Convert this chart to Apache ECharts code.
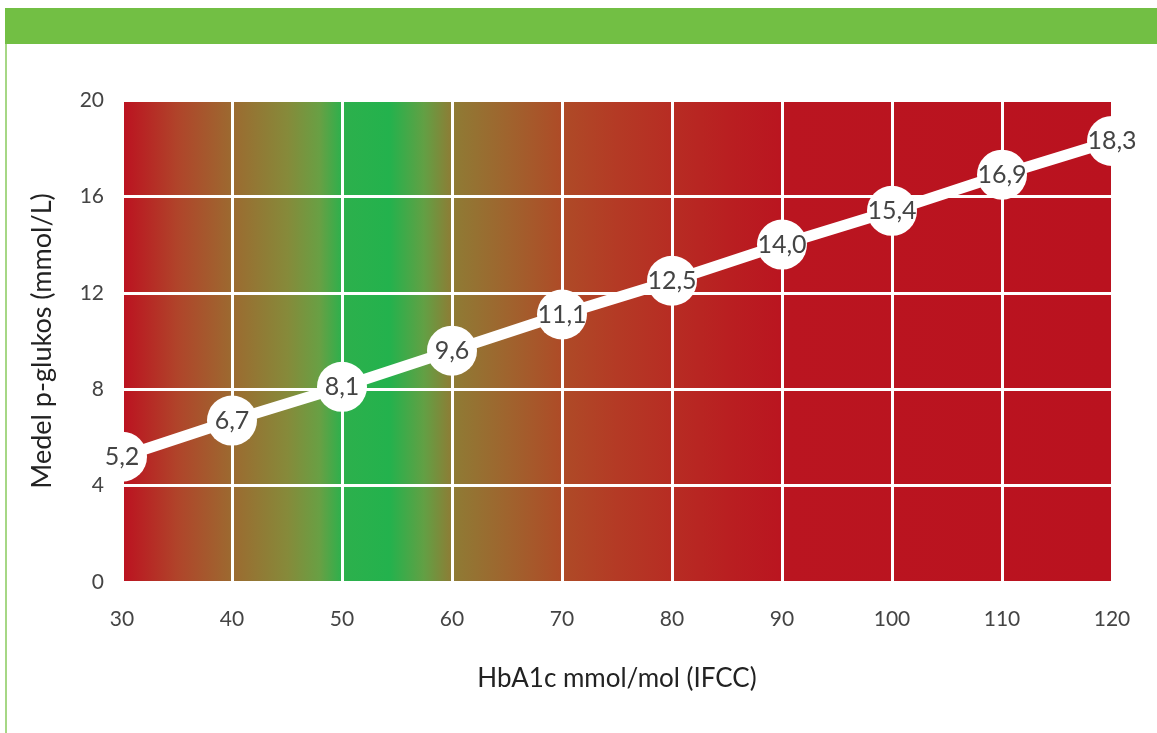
<!DOCTYPE html>
<html>
<head>
<meta charset="utf-8">
<script src="https://cdn.jsdelivr.net/npm/echarts@6/dist/echarts.min.js"></script>
<style>
  html, body { margin: 0; padding: 0; background: #fff; }
  #chart { width: 1157px; height: 733px; }
</style>
</head>
<body>
<div id="chart"></div>
<script>
// Data
const hba1c = [30, 40, 50, 60, 70, 80, 90, 100, 110, 120];
const glucose = [5.2, 6.7, 8.1, 9.6, 11.1, 12.5, 14.0, 15.4, 16.9, 18.3];
const xTicks = [30, 40, 50, 60, 70, 80, 90, 100, 110, 120];
const yTicks = [0, 4, 8, 12, 16, 20];

const chart = echarts.init(document.getElementById('chart'));
const FONT = 'Lato, "Open Sans", sans-serif';

const bgGradient = new echarts.graphic.LinearGradient(0, 0, 1, 0, [
  { offset: 0.000, color: '#BC1120' },
  { offset: 0.056, color: '#B0442A' },
  { offset: 0.111, color: '#9C6A30' },
  { offset: 0.167, color: '#868A3A' },
  { offset: 0.200, color: '#68A044' },
  { offset: 0.222, color: '#2DB04C' },
  { offset: 0.270, color: '#23B24D' },
  { offset: 0.305, color: '#62A044' },
  { offset: 0.333, color: '#8E7C35' },
  { offset: 0.389, color: '#9F642E' },
  { offset: 0.444, color: '#AE4B27' },
  { offset: 0.500, color: '#B43A25' },
  { offset: 0.556, color: '#B72C23' },
  { offset: 0.611, color: '#B91F21' },
  { offset: 0.667, color: '#BA1520' },
  { offset: 1.000, color: '#BA121F' }
]);

const pairs = hba1c.map((x, i) => [x, glucose[i]]);

chart.setOption({
  animation: false,
  backgroundColor: '#fff',
  graphic: [
    { type: 'rect', left: 5, top: 8, shape: { width: 1152, height: 36 }, style: { fill: '#72BF44' }, z: 10 },
    { type: 'rect', left: 5, top: 44, shape: { width: 2, height: 689 }, style: { fill: '#A6D785' }, z: 10 }
  ],
  grid: { left: 122, right: 45, top: 100, bottom: 151 },
  xAxis: {
    type: 'value',
    min: xTicks[0],
    max: xTicks[xTicks.length - 1],
    interval: 10,
    z: 3,
    name: 'HbA1c mmol/mol (IFCC)',
    nameLocation: 'middle',
    nameGap: 84,
    nameMoveOverlap: false,
    nameTextStyle: { fontFamily: FONT, fontSize: 26, color: '#222' },
    axisLine: { show: false },
    axisTick: { show: false },
    axisLabel: { fontFamily: FONT, fontSize: 21, color: '#444', margin: 27 },
    splitLine: { show: true, lineStyle: { color: '#fff', width: 3 } }
  },
  yAxis: {
    type: 'value',
    min: yTicks[0],
    max: yTicks[yTicks.length - 1],
    interval: 4,
    z: 3,
    name: 'Medel p-glukos (mmol/L)',
    nameLocation: 'middle',
    nameGap: 66,
    nameMoveOverlap: false,
    nameTextStyle: { fontFamily: FONT, fontSize: 27, color: '#222' },
    axisLine: { show: false },
    axisTick: { show: false },
    axisLabel: { fontFamily: FONT, fontSize: 21, color: '#444', margin: 18 },
    splitLine: { show: true, lineStyle: { color: '#fff', width: 3 } }
  },
  series: [
    {
      type: 'line',
      z: 1,
      data: [],
      silent: true,
      markArea: {
        silent: true,
        itemStyle: { color: bgGradient },
        data: [[{ xAxis: xTicks[0], yAxis: yTicks[0] }, { xAxis: xTicks[xTicks.length - 1], yAxis: yTicks[yTicks.length - 1] }]]
      }
    },
    {
      type: 'line',
      z: 5,
      clip: false,
      data: pairs,
      symbol: 'circle',
      symbolSize: 50,
      itemStyle: { color: '#fff' },
      lineStyle: { color: '#fff', width: 11 },
      label: {
        show: true,
        position: 'inside',
        fontFamily: FONT,
        fontSize: 25,
        color: '#444',
        formatter: p => p.value[1].toFixed(1).replace('.', ',')
      }
    }
  ]
});
</script>
</body>
</html>
